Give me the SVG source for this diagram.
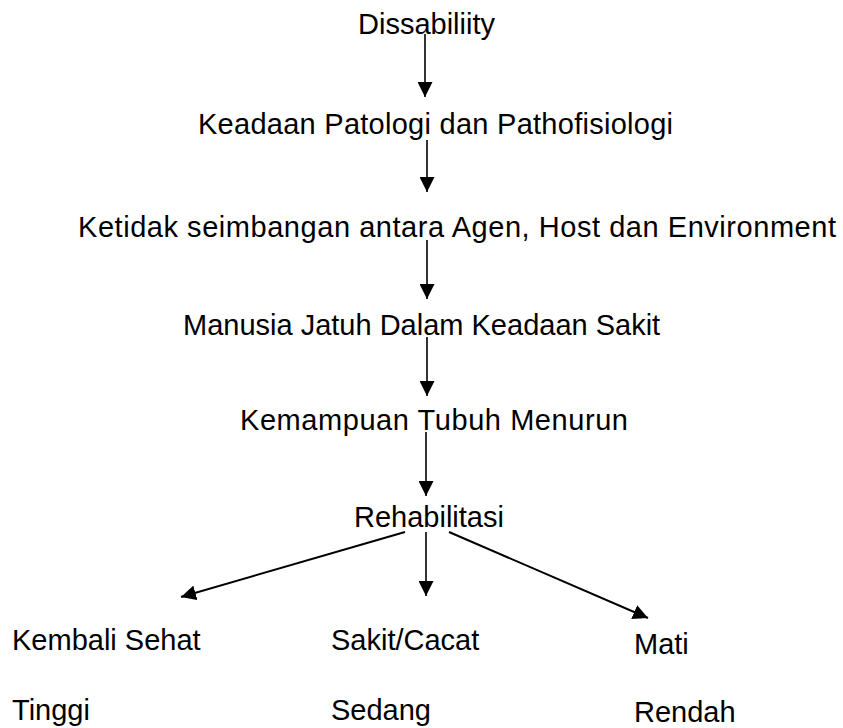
<svg xmlns="http://www.w3.org/2000/svg" width="843" height="728" viewBox="0 0 843 728">
<style>
text{font-family:"Liberation Sans",Arial,sans-serif;font-size:29px;fill:#000}
.c line{stroke:#000;stroke-width:1.6;fill:none}
</style>
<defs>
<marker id="ah" markerUnits="userSpaceOnUse" markerWidth="15" markerHeight="15" refX="15" refY="7.5" orient="auto">
<path d="M0,0 L15,7.5 L0,15 z" fill="#000"/>
</marker>
</defs>
<rect width="843" height="728" fill="#fff"/>
<g id="n1"><text x="358" y="34">Dissabiliity</text></g>
<g id="n2"><text x="198" y="134" textLength="475" lengthAdjust="spacing">Keadaan Patologi dan Pathofisiologi</text></g>
<g id="n3"><text x="78" y="237" textLength="758" lengthAdjust="spacing">Ketidak seimbangan antara Agen, Host dan Environment</text></g>
<g id="n4"><text x="183" y="335">Manusia Jatuh Dalam Keadaan Sakit</text></g>
<g id="n5"><text x="240" y="430" textLength="388" lengthAdjust="spacing">Kemampuan Tubuh Menurun</text></g>
<g id="n6"><text x="354" y="527">Rehabilitasi</text></g>
<g id="n7"><text x="12" y="650">Kembali Sehat</text><text x="12" y="720">Tinggi</text></g>
<g id="n8"><text x="331" y="650">Sakit/Cacat</text><text x="331" y="720">Sedang</text></g>
<g id="n9"><text x="634" y="654">Mati</text><text x="634" y="722">Rendah</text></g>
<g id="connectors" class="c">
<line x1="425" y1="34" x2="425" y2="97" marker-end="url(#ah)"/>
<line x1="427" y1="140" x2="427" y2="192" marker-end="url(#ah)"/>
<line x1="427" y1="240" x2="427" y2="299" marker-end="url(#ah)"/>
<line x1="427" y1="337" x2="427" y2="396" marker-end="url(#ah)"/>
<line x1="426" y1="432" x2="426" y2="496" marker-end="url(#ah)"/>
<line x1="426" y1="532" x2="426" y2="596" marker-end="url(#ah)"/>
<line x1="405" y1="532" x2="181" y2="597" marker-end="url(#ah)" style="stroke-width:2"/>
<line x1="449" y1="532" x2="648" y2="618" marker-end="url(#ah)" style="stroke-width:2"/>
</g>
</svg>
